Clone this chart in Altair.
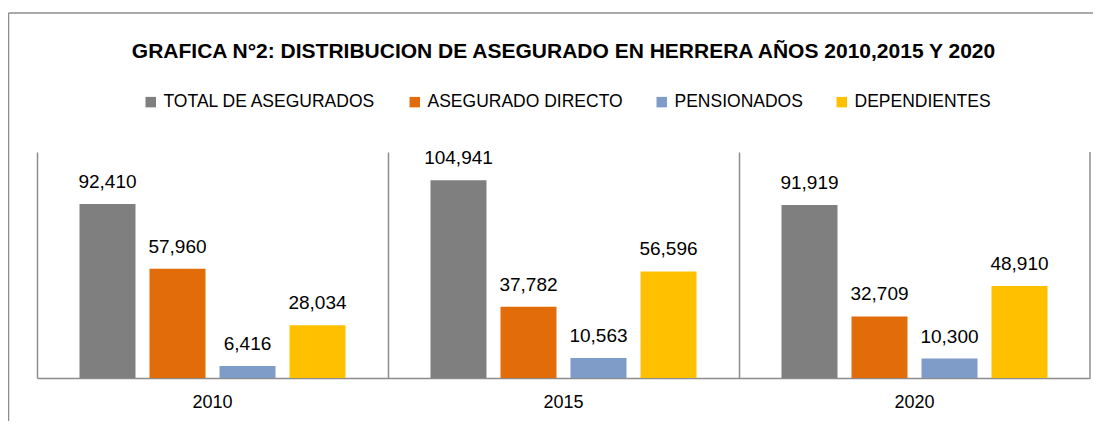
import altair as alt
import pandas as pd

years = ["2010", "2015", "2020"]
series = ["TOTAL DE ASEGURADOS", "ASEGURADO DIRECTO", "PENSIONADOS", "DEPENDIENTES"]
total = [92410, 104941, 91919]
directo = [57960, 37782, 32709]
pensionados = [6416, 10563, 10300]
dependientes = [28034, 56596, 48910]
colors = ["#7F7F7F", "#E36C0A", "#7F9CC9", "#FFC000"]
title_text = "GRAFICA N°2: DISTRIBUCION DE ASEGURADO EN HERRERA AÑOS 2010,2015 Y 2020"

rows = []
for name, vals in zip(series, [total, directo, pensionados, dependientes]):
    for y, v in zip(years, vals):
        rows.append({"year": y, "serie": name, "valor": v})
df = pd.DataFrame(rows)

FONT = "Liberation Sans, Arial, sans-serif"
W, H = 1053, 226
GRAY = "#8C8C8C"

x_enc = alt.X("year:N", sort=years, title=None,
              scale=alt.Scale(paddingInner=0, paddingOuter=0),
              axis=alt.Axis(labelAngle=0, ticks=False, domainColor=GRAY, domainWidth=1.5,
                            grid=True, bandPosition=0, gridColor=GRAY, gridWidth=1.5,
                            labelFontSize=18, labelColor="#000000", labelPadding=15))
xo = alt.XOffset("serie:N", sort=series,
                 scale=alt.Scale(paddingInner=0.2, paddingOuter=0.607))
y_enc = alt.Y("valor:Q", scale=alt.Scale(domain=[0, 120000], nice=False), axis=None)

base = alt.Chart(df)

bars = base.mark_bar().encode(
    x=x_enc, xOffset=xo, y=y_enc,
    color=alt.Color("serie:N", sort=series,
                    scale=alt.Scale(domain=series, range=colors),
                    legend=alt.Legend(title=None, orient="none", direction="horizontal",
                                      columns=4, legendX=105, legendY=-59,
                                      symbolType="square", symbolSize=110,
                                      symbolStrokeWidth=0, labelFontSize=17.5,
                                      labelColor="#000000", labelOffset=4,
                                      columnPadding=30, labelLimit=400)),
)

labels = base.mark_text(baseline="alphabetic", dy=-16, fontSize=19, color="#000000").encode(
    x=alt.X("year:N", sort=years), xOffset=xo, y=y_enc,
    text=alt.Text("valor:Q", format=","),
)

end_div = alt.Chart(pd.DataFrame({"year": [years[-1]]})).mark_rule(
    color=GRAY, strokeWidth=1.5).encode(
    x=alt.X("year:N", sort=years, bandPosition=1),
    y=alt.value(0), y2=alt.value(H),
)

frame_left = alt.Chart(pd.DataFrame({"a": [0]})).mark_rule(color=GRAY, strokeWidth=1.5).encode(
    x=alt.value(-28.5), y=alt.value(-139), y2=alt.value(H + 60))
frame_top = alt.Chart(pd.DataFrame({"a": [0]})).mark_rule(color=GRAY, strokeWidth=1.5).encode(
    x=alt.value(-28.5), x2=alt.value(W + 40), y=alt.value(-139))

chart = alt.layer(bars, labels, end_div, frame_left, frame_top).properties(
    width=W, height=H,
    title=alt.TitleParams(title_text, anchor="middle", fontSize=21, fontWeight="bold",
                          color="#000000", offset=-50, font=FONT),
    autosize=alt.AutoSizeParams(type="none"),
    padding={"left": 29, "top": 144, "right": 3, "bottom": 43},
).configure(font=FONT).configure_view(stroke=None)

chart.save("out.html", embed_options={"renderer": "svg", "actions": False})
